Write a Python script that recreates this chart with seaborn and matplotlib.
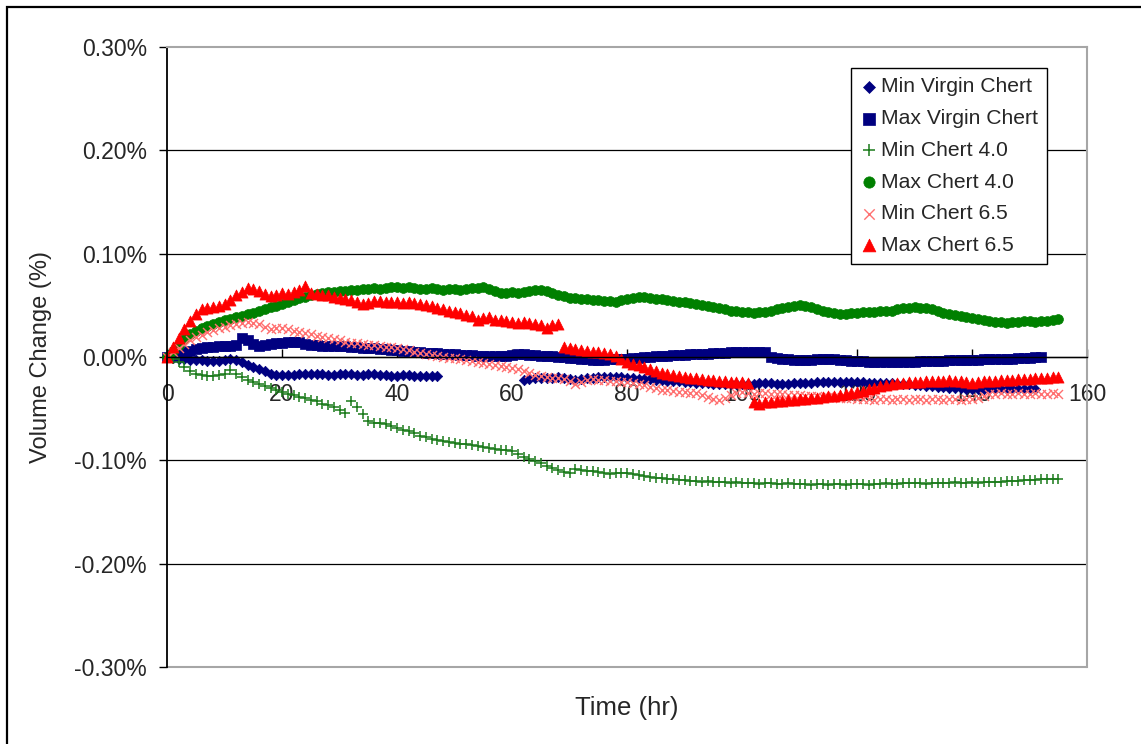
import numpy as np
import pandas as pd
import matplotlib
matplotlib.use("Agg")
import matplotlib.pyplot as plt
from matplotlib.ticker import FuncFormatter
from matplotlib.patches import Rectangle
import seaborn as sns

# ---- measurements: volume change (%) sampled hourly ----
hours_156 = np.arange(0, 156)
hours_153 = np.arange(0, 153)
hours_min_virgin = np.concatenate([np.arange(0, 48), np.arange(62, 152)])

min_virgin_chert = [
    0.000, -0.001, -0.002, -0.002, -0.003, -0.003, -0.003, -0.004, -0.004, -0.004,
    -0.003, -0.002, -0.003, -0.005, -0.008, -0.010, -0.012, -0.014, -0.016, -0.017,
    -0.017, -0.017, -0.017, -0.016, -0.016, -0.016, -0.016, -0.016, -0.017, -0.017,
    -0.016, -0.016, -0.016, -0.017, -0.017, -0.016, -0.016, -0.017, -0.017, -0.018,
    -0.018, -0.017, -0.017, -0.018, -0.018, -0.018, -0.018, -0.018,
    # readings resume at 62 hr
    -0.022, -0.021, -0.020, -0.020, -0.020, -0.020, -0.019, -0.020,
    -0.021, -0.022, -0.021, -0.020, -0.020, -0.019, -0.019, -0.019, -0.019, -0.019,
    -0.020, -0.020, -0.021, -0.021, -0.021, -0.022, -0.022, -0.023, -0.023, -0.023,
    -0.024, -0.024, -0.025, -0.025, -0.025, -0.026, -0.026, -0.026, -0.026, -0.026,
    -0.026, -0.026, -0.026, -0.025, -0.025, -0.025, -0.026, -0.026, -0.026, -0.025,
    -0.025, -0.025, -0.025, -0.024, -0.024, -0.024, -0.024, -0.024, -0.024, -0.024,
    -0.024, -0.024, -0.025, -0.025, -0.025, -0.025, -0.025, -0.026, -0.026, -0.026,
    -0.027, -0.027, -0.028, -0.028, -0.029, -0.029, -0.030, -0.030, -0.030, -0.031,
    -0.031, -0.031, -0.031, -0.031, -0.031, -0.031, -0.031, -0.031, -0.031, -0.031,
    -0.031, -0.031,
]

max_virgin_chert = [
    0.000, 0.002, 0.004, 0.005, 0.006, 0.008, 0.009, 0.010, 0.010, 0.011,
    0.011, 0.011, 0.012, 0.018, 0.016, 0.013, 0.011, 0.012, 0.013, 0.014,
    0.014, 0.015, 0.015, 0.015, 0.013, 0.012, 0.012, 0.011, 0.011, 0.011,
    0.011, 0.011, 0.010, 0.010, 0.009, 0.009, 0.009, 0.008, 0.008, 0.007,
    0.007, 0.006, 0.006, 0.005, 0.005, 0.004, 0.004, 0.004, 0.003, 0.003,
    0.003, 0.002, 0.002, 0.002, 0.001, 0.001, 0.001, 0.001, 0.001, 0.001,
    0.002, 0.003, 0.003, 0.002, 0.002, 0.001, 0.001, 0.001, 0.000, 0.000,
    -0.001, -0.001, -0.002, -0.002, -0.003, -0.003, -0.003, -0.002, -0.002, -0.002,
    -0.002, -0.001, -0.001, 0.000, 0.000, 0.001, 0.001, 0.001, 0.002, 0.002,
    0.002, 0.003, 0.003, 0.003, 0.003, 0.004, 0.004, 0.004, 0.005, 0.005,
    0.005, 0.005, 0.005, 0.005, 0.005, 0.000, -0.001, -0.002, -0.002, -0.003,
    -0.003, -0.003, -0.003, -0.002, -0.002, -0.002, -0.002, -0.003, -0.003, -0.004,
    -0.004, -0.004, -0.005, -0.005, -0.005, -0.005, -0.005, -0.005, -0.005, -0.005,
    -0.005, -0.004, -0.004, -0.004, -0.004, -0.004, -0.003, -0.003, -0.003, -0.003,
    -0.003, -0.003, -0.002, -0.002, -0.002, -0.002, -0.002, -0.002, -0.001, -0.001,
    -0.001, 0.000, 0.000,
]

min_chert_40 = [
    0.000, -0.002, -0.005, -0.010, -0.014, -0.016, -0.017, -0.018, -0.018, -0.017,
    -0.016, -0.013, -0.016, -0.019, -0.022, -0.024, -0.026, -0.028, -0.030, -0.032,
    -0.034, -0.036, -0.037, -0.039, -0.040, -0.042, -0.043, -0.045, -0.046, -0.048,
    -0.051, -0.054, -0.043, -0.048, -0.055, -0.062, -0.064, -0.064, -0.065, -0.067,
    -0.069, -0.071, -0.072, -0.074, -0.076, -0.077, -0.079, -0.080, -0.081, -0.082,
    -0.083, -0.084, -0.084, -0.085, -0.086, -0.087, -0.088, -0.089, -0.090, -0.090,
    -0.091, -0.094, -0.097, -0.099, -0.101, -0.103, -0.105, -0.107, -0.109, -0.111,
    -0.112, -0.108, -0.109, -0.110, -0.110, -0.111, -0.112, -0.113, -0.112, -0.112,
    -0.112, -0.113, -0.114, -0.115, -0.116, -0.117, -0.117, -0.118, -0.118, -0.119,
    -0.119, -0.120, -0.120, -0.121, -0.120, -0.121, -0.121, -0.121, -0.122, -0.121,
    -0.122, -0.122, -0.122, -0.123, -0.122, -0.122, -0.123, -0.123, -0.122, -0.123,
    -0.123, -0.123, -0.124, -0.123, -0.123, -0.124, -0.123, -0.123, -0.124, -0.123,
    -0.123, -0.123, -0.124, -0.123, -0.123, -0.122, -0.123, -0.123, -0.122, -0.122,
    -0.122, -0.122, -0.123, -0.122, -0.122, -0.122, -0.122, -0.121, -0.122, -0.122,
    -0.121, -0.122, -0.121, -0.121, -0.121, -0.121, -0.120, -0.120, -0.120, -0.119,
    -0.119, -0.119, -0.118, -0.118, -0.118, -0.118,
]

max_chert_40 = [
    0.000, 0.006, 0.012, 0.017, 0.022, 0.025, 0.028, 0.030, 0.032, 0.034,
    0.036, 0.037, 0.039, 0.040, 0.042, 0.043, 0.045, 0.046, 0.048, 0.049,
    0.051, 0.053, 0.055, 0.057, 0.058, 0.060, 0.061, 0.062, 0.063, 0.063,
    0.064, 0.064, 0.065, 0.065, 0.066, 0.066, 0.067, 0.066, 0.067, 0.068,
    0.068, 0.067, 0.068, 0.067, 0.066, 0.066, 0.067, 0.066, 0.065, 0.066,
    0.066, 0.065, 0.066, 0.067, 0.067, 0.068, 0.066, 0.064, 0.062, 0.062,
    0.063, 0.062, 0.063, 0.064, 0.065, 0.065, 0.064, 0.062, 0.060, 0.059,
    0.057, 0.057, 0.056, 0.056, 0.055, 0.055, 0.054, 0.054, 0.053, 0.055,
    0.056, 0.057, 0.058, 0.058, 0.057, 0.056, 0.056, 0.055, 0.054, 0.053,
    0.053, 0.052, 0.051, 0.050, 0.049, 0.048, 0.047, 0.046, 0.045, 0.045,
    0.044, 0.044, 0.043, 0.044, 0.044, 0.045, 0.046, 0.047, 0.048, 0.049,
    0.050, 0.049, 0.048, 0.046, 0.045, 0.044, 0.043, 0.042, 0.042, 0.043,
    0.043, 0.044, 0.044, 0.044, 0.045, 0.045, 0.045, 0.046, 0.047, 0.047,
    0.048, 0.047, 0.047, 0.046, 0.045, 0.043, 0.042, 0.041, 0.040, 0.039,
    0.038, 0.037, 0.036, 0.035, 0.034, 0.034, 0.033, 0.034, 0.034, 0.035,
    0.035, 0.034, 0.035, 0.035, 0.036, 0.037,
]

min_chert_65 = [
    0.000, 0.005, 0.009, 0.013, 0.016, 0.019, 0.021, 0.024, 0.026, 0.028,
    0.029, 0.031, 0.032, 0.033, 0.034, 0.033, 0.032, 0.029, 0.027, 0.028,
    0.028, 0.027, 0.025, 0.024, 0.023, 0.022, 0.020, 0.019, 0.018, 0.017,
    0.016, 0.015, 0.014, 0.014, 0.013, 0.012, 0.012, 0.011, 0.010, 0.010,
    0.009, 0.008, 0.007, 0.005, 0.004, 0.003, 0.002, 0.001, 0.000, -0.001,
    -0.001, -0.002, -0.003, -0.004, -0.005, -0.006, -0.007, -0.008, -0.009, -0.010,
    -0.011, -0.012, -0.014, -0.015, -0.017, -0.018, -0.019, -0.020, -0.020, -0.021,
    -0.023, -0.026, -0.024, -0.022, -0.021, -0.022, -0.022, -0.023, -0.023, -0.024,
    -0.024, -0.025, -0.026, -0.027, -0.029, -0.030, -0.032, -0.032, -0.033, -0.034,
    -0.034, -0.035, -0.035, -0.037, -0.039, -0.041, -0.042, -0.040, -0.037, -0.035,
    -0.034, -0.035, -0.036, -0.035, -0.035, -0.036, -0.036, -0.036, -0.037, -0.037,
    -0.037, -0.038, -0.038, -0.038, -0.039, -0.039, -0.039, -0.040, -0.040, -0.040,
    -0.041, -0.041, -0.041, -0.042, -0.041, -0.041, -0.042, -0.041, -0.041, -0.042,
    -0.041, -0.041, -0.042, -0.041, -0.041, -0.042, -0.041, -0.041, -0.042, -0.041,
    -0.041, -0.040, -0.038, -0.036, -0.036, -0.035, -0.036, -0.036, -0.035, -0.036,
    -0.036, -0.035, -0.036, -0.036, -0.035, -0.036,
]

max_chert_65 = [
    0.000, 0.010, 0.018, 0.027, 0.035, 0.042, 0.046, 0.047, 0.048, 0.049,
    0.051, 0.055, 0.060, 0.063, 0.067, 0.066, 0.064, 0.061, 0.059, 0.060,
    0.062, 0.061, 0.063, 0.065, 0.069, 0.062, 0.061, 0.060, 0.060, 0.058,
    0.057, 0.056, 0.055, 0.053, 0.051, 0.052, 0.054, 0.054, 0.053, 0.053,
    0.053, 0.052, 0.053, 0.052, 0.051, 0.050, 0.049, 0.047, 0.046, 0.045,
    0.044, 0.043, 0.041, 0.040, 0.036, 0.038, 0.039, 0.036, 0.036, 0.035,
    0.034, 0.033, 0.034, 0.033, 0.032, 0.031, 0.028, 0.031, 0.032, 0.010,
    0.009, 0.008, 0.007, 0.006, 0.005, 0.005, 0.004, 0.003, 0.001, -0.002,
    -0.005, -0.007, -0.008, -0.010, -0.012, -0.014, -0.015, -0.016, -0.017, -0.018,
    -0.019, -0.020, -0.020, -0.021, -0.022, -0.022, -0.023, -0.023, -0.024, -0.024,
    -0.024, -0.025, -0.044, -0.045, -0.044, -0.044, -0.043, -0.043, -0.042, -0.042,
    -0.041, -0.041, -0.040, -0.040, -0.039, -0.038, -0.038, -0.037, -0.036, -0.035,
    -0.034, -0.033, -0.031, -0.030, -0.028, -0.027, -0.026, -0.025, -0.025, -0.024,
    -0.024, -0.024, -0.023, -0.023, -0.023, -0.023, -0.022, -0.023, -0.023, -0.024,
    -0.025, -0.024, -0.023, -0.023, -0.023, -0.022, -0.022, -0.022, -0.021, -0.021,
    -0.021, -0.020, -0.020, -0.020, -0.019, -0.019,
]

series_names = ["Min Virgin Chert", "Max Virgin Chert", "Min Chert 4.0",
                "Max Chert 4.0", "Min Chert 6.5", "Max Chert 6.5"]
series_hours = [hours_min_virgin, hours_153, hours_156,
                hours_156, hours_156, hours_156]
series_values = [min_virgin_chert, max_virgin_chert, min_chert_40,
                 max_chert_40, min_chert_65, max_chert_65]

x_ticks = [0, 20, 40, 60, 80, 100, 120, 140, 160]
y_ticks = [-0.30, -0.20, -0.10, 0.00, 0.10, 0.20, 0.30]

# ---- marker styles for each series ----
styles = {
    "Min Virgin Chert": dict(marker="D", color="#000080", s=28, lw=0.5),
    "Max Virgin Chert": dict(marker="s", color="#000080", s=48, lw=0.5),
    "Min Chert 4.0":    dict(marker="+", color="#1A7A1A", s=48, lw=1.1),
    "Max Chert 4.0":    dict(marker="o", color="#008000", s=50, lw=0.5),
    "Min Chert 6.5":    dict(marker="x", color="#FF7070", s=42, lw=1.0),
    "Max Chert 6.5":    dict(marker="^", color="#FF0000", s=64, lw=0.5),
}

sns.set_theme(style="white")
plt.rcParams["font.family"] = ["Liberation Sans", "DejaVu Sans"]

fig = plt.figure(figsize=(11.41, 7.44), dpi=100)
ax = fig.add_axes([167 / 1141, 1 - 667 / 744, 920 / 1141, 620 / 744])

for name, hrs, vals in zip(series_names, series_hours, series_values):
    st = styles[name]
    df = pd.DataFrame({"Time (hr)": hrs, "Volume Change (%)": vals})
    kw = dict(marker=st["marker"], s=st["s"], linewidth=st["lw"], label=name,
              color=st["color"], ax=ax)
    if st["marker"] not in ("+", "x"):
        kw["edgecolor"] = st["color"]
    sns.scatterplot(data=df, x="Time (hr)", y="Volume Change (%)", **kw)

for coll in ax.collections:
    coll.set_clip_on(False)

ax.set_xlim(0, 160)
ax.set_ylim(-0.30, 0.30)
ax.set_xticks(x_ticks)
ax.set_yticks(y_ticks)
ax.yaxis.set_major_formatter(
    FuncFormatter(lambda v, p: f"{0.0 if abs(v) < 1e-9 else v:.2f}%"))

# horizontal grid at each tick; the outer ones match the light frame
ax.grid(axis="y", color="black", linewidth=0.9)
ax.grid(axis="x", visible=False)
ax.set_axisbelow(True)
ylines = ax.yaxis.get_gridlines()
ylines[0].set_visible(False)
ylines[-1].set_visible(False)
ax.axhline(-0.30, color="#A6A6A6", linewidth=1.5, zorder=0.5, clip_on=False)

# x axis crossing at zero
ax.spines["bottom"].set_position(("data", 0))
ax.spines["bottom"].set_color("black")
ax.spines["bottom"].set_linewidth(1.0)
ax.spines["left"].set_color("black")
ax.spines["left"].set_linewidth(1.3)
for side in ("top", "right"):
    ax.spines[side].set_color("#A6A6A6")
    ax.spines[side].set_linewidth(1.5)

ax.tick_params(axis="x", direction="in", length=6, width=1, color="black",
               labelsize=16.5, pad=18.5, bottom=True)
ax.tick_params(axis="y", direction="out", length=6, width=1, color="black",
               labelsize=16.5, pad=8.5, left=True)

ax.set_xlabel("Time (hr)", fontsize=18.5, va="center")
ax.xaxis.set_label_coords(0.5, (667 - 708) / 620)
ax.set_ylabel("Volume Change (%)", fontsize=17, va="center")
ax.yaxis.set_label_coords((41 - 167) / 920, 0.5)

leg = ax.legend(loc="upper left", bbox_to_anchor=((851 - 167) / 920, (667 - 68) / 620),
                borderaxespad=0, frameon=True, fancybox=False, fontsize=15.2,
                handlelength=0.8, handletextpad=0.15, labelspacing=0.6,
                borderpad=0.45, markerscale=1.15)
leg.get_frame().set_edgecolor("black")
leg.get_frame().set_linewidth(1.0)
leg.get_frame().set_facecolor("white")
leg.get_frame().set_alpha(1)

# outer chart frame
fig.patches.append(Rectangle((7 / 1141, -0.05), 1.1, 1 - 7 / 744 + 0.05,
                             transform=fig.transFigure, fill=False,
                             edgecolor="black", linewidth=1.6))

fig.savefig("out.png", dpi=100, facecolor="white")
